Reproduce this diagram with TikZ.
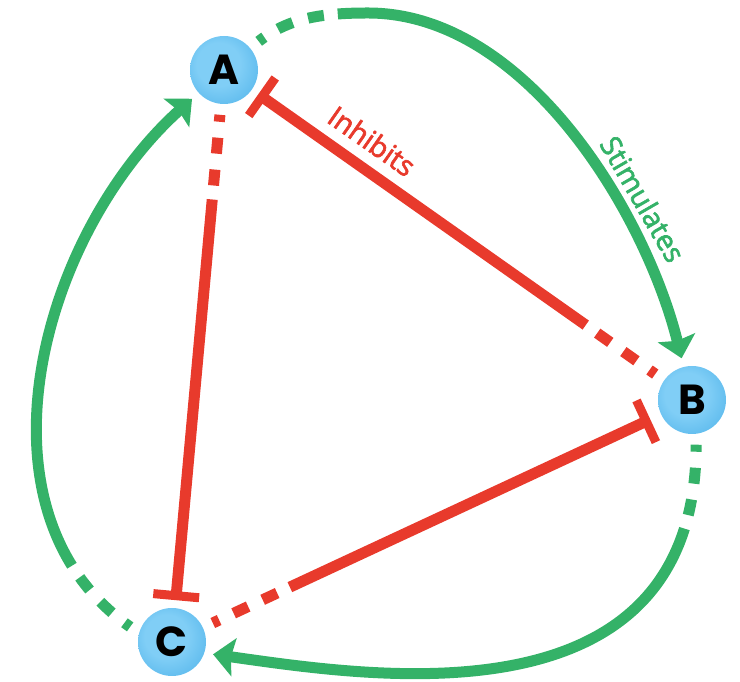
\documentclass[tikz,border=0pt]{standalone}
\usepackage{fontspec}
\setmainfont{Open Sans}
\newfontfamily\lblfont{Open Sans}[FakeBold=2.2]
\newfontfamily\ballfont{Poppins}
\usetikzlibrary{arrows.meta}
\definecolor{inhred}{RGB}{232,58,44}
\definecolor{stimgreen}{RGB}{52,178,104}
\definecolor{ballin}{RGB}{128,206,246}
\definecolor{ballout}{RGB}{50,162,226}
\pgfdeclareradialshading{ballshade}{\pgfpoint{-6bp}{6bp}}{color(0bp)=(ballin); color(16bp)=(ballin); color(50bp)=(ballout)}
\tikzset{
  ballnode/.style={circle, minimum size=68pt, inner sep=0pt, outer sep=0pt, shading=ballshade,
    font=\ballfont\bfseries\fontsize{42}{42}\selectfont},
  fadedash/.style={dash pattern=on 7pt off 16pt on 16pt off 16pt on 16pt off 14pt on 2000pt},
  inhib/.style={draw=inhred, line width=11pt, fadedash, shorten <=11pt, -{Bar[width=46pt,line width=9pt]}},
  stim/.style={draw=stimgreen, line width=11pt, fadedash, shorten <=11pt, shorten >=9pt,
    -{Stealth[width=38pt,length=21pt,inset=3pt]}},
  lbl/.style={font=\lblfont\fontsize{28.5}{28.5}\selectfont, inner sep=0pt}
}
\begin{document}
\begin{tikzpicture}[x=1pt,y=1pt]
\useasboundingbox (0,0) rectangle (740,682);
\node[ballnode] (A) at (224,612) {A};
\node[ballnode] (B) at (692,282) {B};
\node[ballnode] (C) at (172,40) {C};
\coordinate (peakAB) at (368,669);
% inhibition
\draw[inhib, shorten >=8pt] (B) -- (A);
\draw[inhib, shorten >=8pt] (A) -- (C);
\draw[inhib, shorten >=12pt] (C) -- (B);
% stimulation
\draw[stim] (A.40) to[out=38,in=180] (peakAB) to[out=0,in=104,looseness=0.85] (B.104);
\draw[stim] (B.-83) to[out=-90,in=-8,out looseness=1.4,in looseness=0.8] (C.-19);
\draw[stim] (C.165) to[out=145,in=222] (A.222);
% labels
\node[lbl, text=inhred, rotate=-35] (inhlbl) at (372,541) {Inhibits};
\node[lbl, text=stimgreen, rotate=-60] (stimlbl) at (643,483) {Stimulates};
\end{tikzpicture}
\end{document}
